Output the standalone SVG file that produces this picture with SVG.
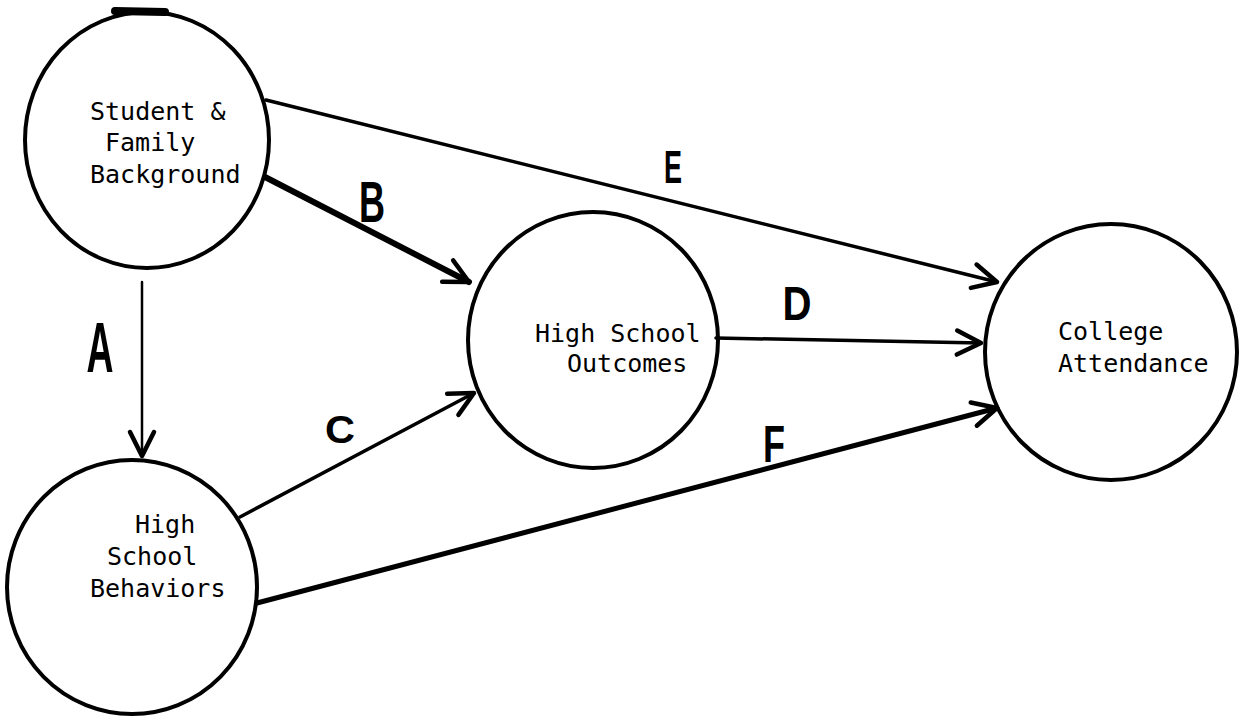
<svg xmlns="http://www.w3.org/2000/svg" width="1242" height="717" viewBox="0 0 1242 717">
<style>
.node{fill:none;stroke:#000;stroke-width:4}
.lbl{font-family:"DejaVu Sans Mono","Liberation Mono",monospace;font-size:25px;fill:#000}
.edge{fill:none;stroke:#000;stroke-linecap:round}
.hand{font-family:"Liberation Sans","DejaVu Sans",sans-serif;font-weight:bold;fill:#000;text-anchor:middle}
</style>
<defs>
<marker id="ah" markerUnits="userSpaceOnUse" viewBox="-30 -16 34 32" refX="0" refY="0" markerWidth="34" markerHeight="32" orient="auto" overflow="visible">
<path d="M -24 -12 L 0 0 L -24 12" fill="none" stroke="#000" stroke-width="4.5" stroke-linecap="round" stroke-linejoin="round"/>
</marker>
</defs>
<rect width="1242" height="717" fill="#fff"/>
<g id="connectors">
<line id="edge-A" class="edge" x1="142" y1="282" x2="142" y2="456" stroke-width="2.5" marker-end="url(#ah)"/>
<line id="edge-B" class="edge" x1="265" y1="177" x2="469" y2="282" stroke-width="6" marker-end="url(#ah)"/>
<line id="edge-C" class="edge" x1="240" y1="517" x2="474" y2="393" stroke-width="3.5" marker-end="url(#ah)"/>
<line id="edge-D" class="edge" x1="716" y1="338" x2="981" y2="343" stroke-width="3.5" marker-end="url(#ah)"/>
<line id="edge-E" class="edge" x1="266" y1="100" x2="997" y2="282" stroke-width="3.5" marker-end="url(#ah)"/>
<line id="edge-F" class="edge" x1="257" y1="603" x2="997" y2="408" stroke-width="5" marker-end="url(#ah)"/>
<text class="hand" x="100" y="372" font-size="70" textLength="27" lengthAdjust="spacingAndGlyphs">A</text>
<text class="hand" x="372" y="222" font-size="58" textLength="26" lengthAdjust="spacingAndGlyphs">B</text>
<text class="hand" x="340" y="443" font-size="39" textLength="30" lengthAdjust="spacingAndGlyphs">C</text>
<text class="hand" x="797" y="320" font-size="49" textLength="29" lengthAdjust="spacingAndGlyphs">D</text>
<text class="hand" x="673" y="183" font-size="46" textLength="18" lengthAdjust="spacingAndGlyphs">E</text>
<text class="hand" x="774" y="462" font-size="52" textLength="22" lengthAdjust="spacingAndGlyphs">F</text>
</g>
<g id="node-background">
<ellipse class="node" cx="147" cy="140" rx="122" ry="128"/>
<path d="M 115 11 L 165 12" stroke="#000" stroke-width="8" stroke-linecap="round"/>
<text class="lbl" x="90" y="120">Student &amp;</text>
<text class="lbl" x="105" y="151">Family</text>
<text class="lbl" x="90" y="183">Background</text>
</g>
<g id="node-behaviors">
<ellipse class="node" cx="132" cy="587" rx="125" ry="127"/>
<text class="lbl" x="135" y="533">High</text>
<text class="lbl" x="107" y="565">School</text>
<text class="lbl" x="90" y="597">Behaviors</text>
</g>
<g id="node-outcomes">
<ellipse class="node" cx="593" cy="340" rx="125" ry="128"/>
<text class="lbl" x="535" y="342">High School</text>
<text class="lbl" x="567" y="372">Outcomes</text>
</g>
<g id="node-college">
<ellipse class="node" cx="1111" cy="352" rx="126" ry="128"/>
<text class="lbl" x="1058" y="340">College</text>
<text class="lbl" x="1058" y="372">Attendance</text>
</g>
</svg>
